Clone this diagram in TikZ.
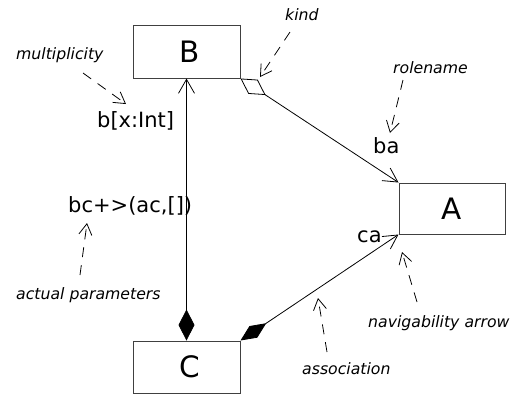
\documentclass[tikz,border=0pt]{standalone}
\usepackage{fontspec}
\setmainfont{DejaVu Sans}[ItalicFont={DejaVu Sans Oblique}]
\usetikzlibrary{arrows.meta}
\begin{document}
\begin{tikzpicture}[x=1pt,y=-1pt,
  box/.style={draw=black!75, line width=1pt, minimum width=107pt, minimum height=53pt, inner sep=0pt, font=\fontsize{29.5}{30}\selectfont},
  conn/.style={draw=black, line width=0.8pt},
  role/.style={inner sep=0pt, anchor=base west, font=\fontsize{21}{22}\selectfont},
  note/.style={inner sep=0pt, anchor=base west, font=\fontsize{15.7}{17}\selectfont\itshape},
  notearrow/.style={draw=black, line width=0.8pt, dash pattern=on 10pt off 8pt, -{Straight Barb[length=11pt,width=13pt]}}
]
\useasboundingbox (0,0) rectangle (515,394);

% classes
\node[box] (B) at (186.5,51.5) {\hspace{6pt}B};
\node[box, minimum width=106pt, minimum height=51pt] (A) at (452,208.5) {A};
\node[box, minimum height=52pt] (C) at (186.5,367) {\hspace{6pt}C};

% associations
\draw[conn, {Straight Barb[length=14pt,width=16pt]}-{Diamond[length=31pt,width=16pt]}] (B.south) -- (C.north);
\draw[conn, {Diamond[open,length=30pt,width=17pt]}-{Straight Barb[length=14pt,width=15pt]}] (B.south east) -- (A.north west);
\draw[conn, {Diamond[length=31pt,width=14pt]}-{Straight Barb[length=14pt,width=15pt]}] (C.north east) -- (A.south west);

% role labels
\node[role] (mul) at (97,127) {b[x:Int]};
\node[role] (par) at (68,212) {bc+>(ac,[])};
\node[role] (ba) at (373,153) {ba};
\node[role] (ca) at (357,242) {ca};

% annotations
\node[note] (nmult) at (16,59) {multiplicity};
\node[note] (nkind) at (285,20) {kind};
\node[note] (nrole) at (393,73) {rolename};
\node[note] (npar) at (16,299) {actual parameters};
\node[note] (nassoc) at (302,374) {association};
\node[note] (nnav) at (368,327) {navigability arrow};

\coordinate (s1) at (83,73);   \coordinate (t1) at (126,104);
\coordinate (s2) at (290,32);  \coordinate (t2) at (260,77);
\coordinate (s3) at (403,80);  \coordinate (t3) at (390,133);
\coordinate (s4) at (80,275);  \coordinate (t4) at (87,223);
\coordinate (s5) at (327,352); \coordinate (t5) at (318,298);
\coordinate (s6) at (417,302); \coordinate (t6) at (402,252);

\draw[notearrow] (s1) -- (t1);
\draw[notearrow] (s2) -- (t2);
\draw[notearrow] (s3) -- (t3);
\draw[notearrow] (s4) -- (t4);
\draw[notearrow] (s5) -- (t5);
\draw[notearrow] (s6) -- (t6);
\end{tikzpicture}
\end{document}
